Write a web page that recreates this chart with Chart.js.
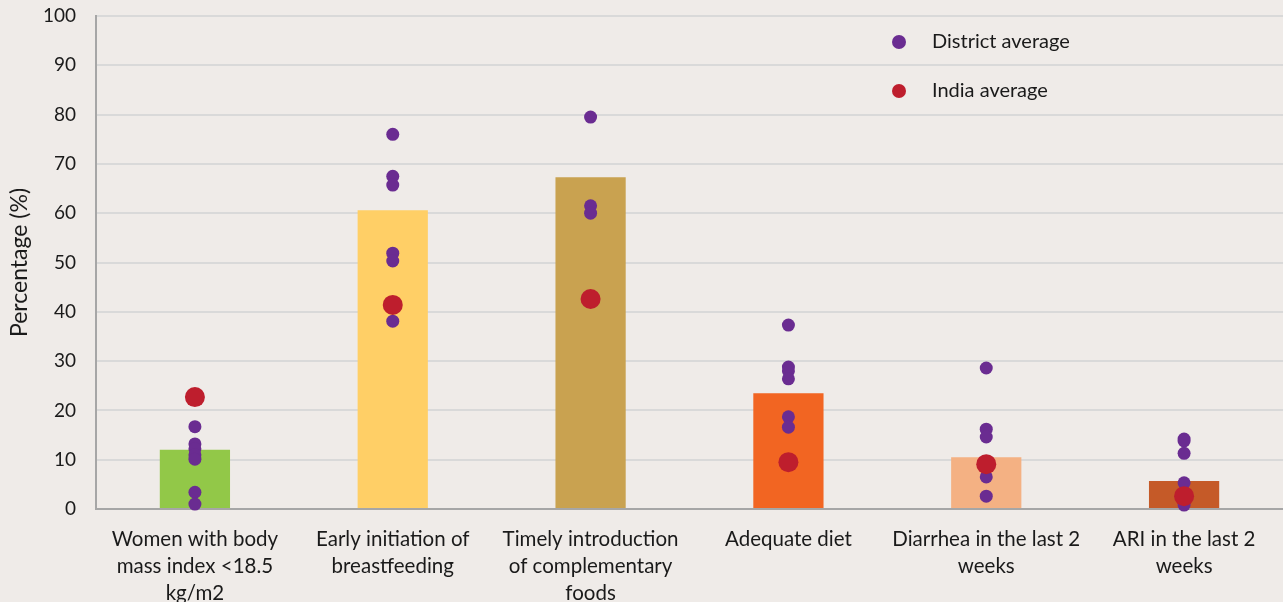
<!DOCTYPE html>
<html>
<head>
<meta charset="utf-8">
<script src="https://cdn.jsdelivr.net/npm/chart.js@4/dist/chart.umd.min.js"></script>
<style>
  html, body { margin: 0; padding: 0; background: #efebe8; overflow: hidden; }
  #wrap { width: 1283px; height: 602px; position: relative; }
</style>
</head>
<body>
<div id="wrap"><canvas id="nutritionChart"></canvas></div>
<script>
const categories = [
  ['Women with body', 'mass index <18.5', 'kg/m2'],
  ['Early initiation of', 'breastfeeding'],
  ['Timely introduction', 'of complementary', 'foods'],
  ['Adequate diet'],
  ['Diarrhea in the last 2', 'weeks'],
  ['ARI in the last 2', 'weeks']
];
const catKeys = ['bmi', 'breastfeeding', 'complementary', 'diet', 'diarrhea', 'ari'];
const stateValues = [12.0, 60.6, 67.3, 23.5, 10.5, 5.7];
const indiaAverage = [22.7, 41.4, 42.6, 9.5, 9.1, 2.6];
const districtAverage = [
  [16.7, 13.2, 12.2, 11.0, 10.1, 3.4, 1.0],
  [76.0, 67.5, 65.7, 51.9, 50.3, 38.1],
  [79.5, 61.5, 60.0],
  [37.3, 28.8, 28.0, 26.4, 18.7, 16.6],
  [28.6, 16.2, 14.6, 6.5, 2.6],
  [14.2, 13.8, 11.3, 5.3, 0.8]
];
const yTicks = [0, 10, 20, 30, 40, 50, 60, 70, 80, 90, 100];
const barColors = ['#92c848', '#ffcf66', '#c9a250', '#f26522', '#f4b183', '#c55a28'];

const font = "Lato, 'Open Sans', sans-serif";

const districtPoints = [];
districtAverage.forEach((vals, i) => vals.forEach(v => districtPoints.push({ x: catKeys[i], y: v })));
const indiaPoints = indiaAverage.map((v, i) => ({ x: catKeys[i], y: v }));

// legend drawn inside the plot area, top right
const dotLegend = {
  id: 'dotLegend',
  afterDraw(chart) {
    const ctx = chart.ctx;
    const items = [['District average', '#6a2c91'], ['India average', '#be1e2d']];
    ctx.save();
    ctx.font = '20px ' + font;
    ctx.textBaseline = 'middle';
    items.forEach((it, i) => {
      const y = 42 + i * 49;
      ctx.beginPath();
      ctx.arc(899, y, 7, 0, Math.PI * 2);
      ctx.fillStyle = it[1];
      ctx.fill();
      ctx.fillStyle = '#1a1a1a';
      ctx.fillText(it[0], 932, y);
    });
    ctx.restore();
  }
};

new Chart(document.getElementById('nutritionChart'), {
  data: {
    labels: catKeys,
    datasets: [
      {
        type: 'line',
        label: 'India average',
        data: indiaPoints,
        showLine: false,
        pointRadius: 10,
        pointBackgroundColor: '#be1e2d',
        pointBorderWidth: 0,
        clip: false,
        order: 1
      },
      {
        type: 'line',
        label: 'District average',
        data: districtPoints,
        showLine: false,
        pointRadius: 6.5,
        pointBackgroundColor: '#6a2c91',
        pointBorderWidth: 0,
        clip: false,
        order: 2
      },
      {
        type: 'bar',
        label: 'State',
        data: stateValues,
        backgroundColor: barColors,
        barPercentage: 0.355,
        categoryPercentage: 1,
        order: 3
      }
    ]
  },
  options: {
    responsive: true,
    maintainAspectRatio: false,
    animation: false,
    layout: { autoPadding: false, padding: { top: 16, right: 0, left: 0, bottom: 0 } },
    plugins: { legend: { display: false }, tooltip: { enabled: false } },
    scales: {
      x: {
        type: 'category',
        offset: true,
        grid: { display: false },
        border: { color: '#a6a6a6', width: 2 },
        ticks: {
          font: { family: font, size: 20.5, lineHeight: 1.317 },
          color: '#1a1a1a',
          padding: 9,
          maxRotation: 0,
          autoSkip: false,
          callback: (v, i) => categories[i]
        },
        afterFit: s => { s.height = 93; s.paddingLeft = 0; s.paddingRight = 0; }
      },
      y: {
        min: 0,
        max: 100,
        afterBuildTicks: s => { s.ticks = yTicks.map(v => ({ value: v })); },
        grid: { color: '#d9d9d9', lineWidth: 2, drawTicks: false },
        border: { color: '#a6a6a6', width: 2 },
        ticks: { font: { family: font, size: 19 }, color: '#1a1a1a', padding: 20 },
        title: { display: true, text: 'Percentage (%)', font: { family: font, size: 23 }, color: '#1a1a1a', padding: { top: 6, bottom: 0 } },
        afterFit: s => { s.width = 96; s.paddingTop = 0; s.paddingBottom = 0; }
      }
    }
  },
  plugins: [dotLegend]
});
</script>
</body>
</html>
